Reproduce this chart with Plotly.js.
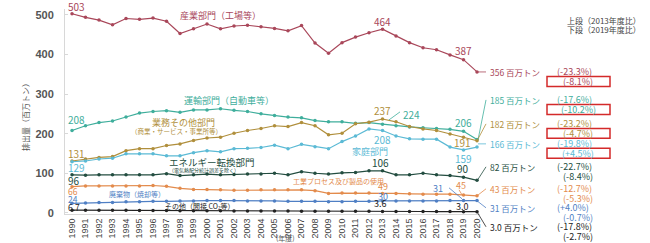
<!DOCTYPE html>
<html><head><meta charset="utf-8">
<script src="https://cdn.plot.ly/plotly-3.0.1.min.js"></script>
<style>html,body{margin:0;padding:0;background:#fff}#c{width:650px;height:243px}</style>
</head><body><div id="c"></div>
<script>
const years = [1990,1991,1992,1993,1994,1995,1996,1997,1998,1999,2000,2001,2002,2003,2004,2005,2006,2007,2008,2009,2010,2011,2012,2013,2014,2015,2016,2017,2018,2019,2020];
const industry   = [503,494,487,475,491,489,492,484,453,465,477,465,472,474,470,466,460,473,429,403,430,444,455,464,447,430,417,412,399,387,356];
const transport  = [208,220,228,232,242,252,256,258,254,260,260,263,259,256,250,246,242,240,233,230,230,226,228,224,220,217,215,213,211,206,185];
const commercial = [131,136,140,142,157,162,162,170,174,183,189,191,201,208,213,220,218,228,220,197,201,225,229,237,230,218,212,208,199,191,182];
const residential= [129,131,136,138,149,149,149,144,144,152,157,154,162,163,165,171,162,173,167,162,180,194,212,208,194,187,186,186,166,159,166];
const energy     = [96,95,96,96,96,96,96,99,94,96,98,96,97,98,98,100,96,104,100,98,101,102,106,106,96,96,100,96,94,90,82];
const processes  = [66,68,68,68,68,68,69,67,62,59,59,58,57,57,58,58,58,58,56,49,50,50,50,49,49,48,47,47,47,45,43];
const waste      = [24,25,26,26,28,28,29,29,30,30,31,31,31,30,30,30,29,29,29,28,28,29,29,30,30,30,30,30,31,31,31];
const other      = [6.7,6.5,6.4,6.3,6.3,6.0,5.8,5.6,5.4,5.2,5.0,4.9,4.7,4.6,4.5,4.4,4.3,4.1,4.0,3.8,3.8,3.7,3.7,3.6,3.5,3.4,3.3,3.2,3.1,3.0,3.0];
const seriesNames = ["産業部門（工場等）","運輸部門（自動車等）","業務その他部門","家庭部門","エネルギー転換部門","工業プロセス及び製品の使用","廃棄物（焼却等）","その他（間接 CO₂等）"];
const subNames = ["","","（商業・サービス・事業所等）","","（電気熱配分統計誤差を除く）","","",""];
const totals2020 = ["356","185","182","166","82","43","31","3.0"];
const vs2013 = ["(-23.3%)","(-17.6%)","(-23.2%)","(-19.8%)","(-22.7%)","(-12.7%)","(+4.0%)","(-17.8%)"];
const vs2019 = ["(-8.1%)","(-10.2%)","(-4.7%)","(+4.5%)","(-8.4%)","(-5.3%)","(-0.7%)","(-2.7%)"];
const yTicks = [0,100,200,300,400,500];

const colors = ['#a9475a','#3fae9c','#b08f3c','#5bbad5','#234d40','#e38b4c','#4f7fc4','#222222'];
const data = [industry,transport,commercial,residential,energy,processes,waste,other];
const FONT = '"Noto Sans CJK JP", "Noto Sans", sans-serif';
const fmt = (i,v) => i===7 ? v.toFixed(1) : String(v);

// pixel helpers (plot area: x 65..480, y 9..214.2)
const L=65, R=480, T=9, B=214.2;
const px = v => (v-L)/(R-L);
const py = v => (B-v)/(B-T);

const traces = data.map((d,i)=>({
  x: years, y: d, type:'scatter', mode:'lines+markers', name: seriesNames[i],
  line:{color:colors[i], width:1.2}, marker:{color:colors[i], size:3.5}, cliponaxis:false,
  hoverinfo:'skip'
}));

const ann = [];
function A(x,y,text,color,size,xanchor){
  ann.push({xref:'paper',yref:'paper',x:px(x),y:py(y),text:text,showarrow:false,
    xanchor:xanchor||'center',yanchor:'middle',font:{family:FONT,size:size,color:color}});
}
function D(i,k,xanchor,xshift,yshift,size){
  ann.push({xref:'x',yref:'y',x:years[k],y:data[i][k],text:fmt(i,data[i][k]),showarrow:false,
    xanchor:xanchor,yanchor:'middle',xshift:xshift,yshift:yshift,
    font:{family:FONT,size:size||10,color:colors[i]}});
}
const i13 = years.indexOf(2013), i19 = years.indexOf(2019);
// start values
D(0,0,'left',-6,7);
D(1,0,'left',-6,11);
D(2,0,'left',-6,7);
D(3,0,'left',-6,-6);
D(4,0,'left',-6,-6);
D(5,0,'left',-6,-4.5,8.5);
D(6,0,'left',-6,4,8.5);
D(7,0,'left',-6,3,8.5);
// 2013 values
D(0,i13,'center',0,8);
D(2,i13,'center',0,9);
D(1,i13,'center',29,10);
D(3,i13,'center',0,-9);
D(4,i13,'center',-2,8);
D(5,i13,'center',0,6.5,9);
D(6,i13,'center',0,4,9);
D(7,i13,'center',-2,7.5,9);
// 2019 values
D(0,i19,'center',0,9);
D(1,i19,'center',0,8.5);
D(2,i19,'center',-1,-5.5);
D(3,i19,'center',0,-9);
D(4,i19,'center',-1,8.5);
D(5,i19,'center',-3,10,9);
D(6,i19,'center',-26,12,9);
D(7,i19,'center',-1,5,9);

// series labels
A(178,16,seriesNames[0],colors[0],9,'left');
A(182,101,seriesNames[1],colors[1],9,'left');
A(183,123,seriesNames[2],colors[2],9,'center');
A(176,131,subNames[2],colors[2],6.5,'center');
A(370,152,seriesNames[3],colors[3],9,'center');
A(167,162,seriesNames[4],colors[4],9.5,'left');
A(167,170,subNames[4],colors[4],5,'left');
A(338,181,seriesNames[5],colors[5],7,'center');
A(107,194,seriesNames[6],colors[6],7,'left');
A(163,206,seriesNames[7],colors[7],7,'left');

// right labels
const labY = [72,100,124,144,167,189,208,227];
const shapes = [];
for(let i=0;i<8;i++){
  A(488,labY[i],totals2020[i]+' 百万トン',colors[i],8.5,'left');
  A(555,labY[i],vs2013[i],colors[i],9,'left');
  A(578,labY[i]+9.5,vs2019[i],colors[i],9,'center');
}
// leader lines to right labels (pixel space)
const leadStart=[[477,72],[478,140],[477,141],[478,144],[477,181],[477,196],[477,201],[477,212]];
leadStart.forEach((s,i)=>{
  shapes.push({type:'line',xref:'paper',yref:'paper',x0:px(s[0]),y0:py(s[1]),x1:px(486),y1:py(labY[i]),
    line:{color:colors[i],width:0.8}});
});
for(let i=0;i<4;i++){
  shapes.push({type:'rect',xref:'paper',yref:'paper',x0:px(547),x1:px(610),y0:py(labY[i]+9.5-5),y1:py(labY[i]+9.5+5),
    line:{color:'#d42a2a',width:1.5}});
}
// leader for 224, 31, 45
shapes.push({type:'line',xref:'paper',yref:'paper',x0:px(389),y0:py(120),x1:px(400),y1:py(112),line:{color:colors[1],width:0.8}});
shapes.push({type:'line',xref:'paper',yref:'paper',x0:px(449),y0:py(188),x1:px(462),y1:py(199),line:{color:colors[6],width:0.8}});
shapes.push({type:'line',xref:'paper',yref:'paper',x0:px(459),y0:py(190),x1:px(462),y1:py(195),line:{color:colors[5],width:0.8}});

// notes
A(643,21,'上段（2013年度比）','#444',8,'right');
A(643,30,'下段（2019年度比）','#444',8,'right');
A(285,238,'(年度)','#555',7,'center');
ann.push({xref:'paper',yref:'paper',x:px(26),y:py(115),text:'排出量（百万トン）',textangle:-90,showarrow:false,
  xanchor:'center',yanchor:'middle',font:{family:FONT,size:8,color:'#555'}});

const layout = {
  width:650,height:243,
  margin:{l:L,r:650-R,t:T,b:243-B},
  paper_bgcolor:'#fff',plot_bgcolor:'#fff',
  showlegend:false,
  font:{family:FONT},
  xaxis:{range:[1989.48,2020.22],tickmode:'array',tickvals:years,ticktext:years.map(String),
    tickangle:-90,tickfont:{family:'"Liberation Sans", sans-serif',size:9,color:'#444'},
    showgrid:false,zeroline:false,showline:true,linecolor:'#d8d8d8',linewidth:1,ticks:'',fixedrange:true},
  yaxis:{range:[-3,515],tickmode:'array',tickvals:yTicks,ticktext:yTicks.map(String),
    tickfont:{family:'"Liberation Sans", sans-serif',size:11,color:'#555',weight:'bold'},
    showgrid:false,zeroline:false,showline:true,linecolor:'#d8d8d8',linewidth:1,ticks:'inside',ticklen:3,tickcolor:'#d8d8d8',
    ticklabelstandoff:8,fixedrange:true},
  annotations:ann,shapes:shapes
};
Plotly.newPlot('c',traces,layout,{staticPlot:true,displayModeBar:false});
</script></body></html>
